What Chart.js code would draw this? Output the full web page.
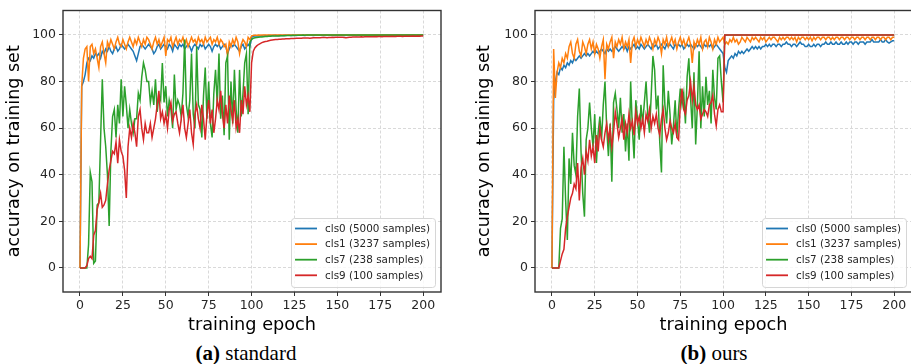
<!DOCTYPE html>
<html><head><meta charset="utf-8">
<script src="https://cdn.jsdelivr.net/npm/chart.js@4.4.1/dist/chart.umd.min.js"></script>
<style>
html,body{margin:0;padding:0;background:#fff;overflow:hidden;width:911px;height:364px;}
#wrapA{position:absolute;left:0;top:0;width:455px;height:340px;}
#wrapB{position:absolute;left:470px;top:0;width:450px;height:340px;}
.cap{position:absolute;top:341px;line-height:24px;font-family:"Liberation Serif","Times New Roman",serif;font-size:21px;color:#000;white-space:nowrap;transform:translateX(-50%);}
</style></head>
<body>
<div id="wrapA"><canvas id="cA" width="455" height="340"></canvas></div>
<div id="wrapB"><canvas id="cB" width="450" height="340"></canvas></div>
<div class="cap" style="left:246px"><b>(a)</b> standard</div>
<div class="cap" style="left:714px"><b>(b)</b> ours</div>
<script>
const categories = ['cls0 (5000 samples)','cls1 (3237 samples)','cls7 (238 samples)','cls9 (100 samples)'];
const colors = ['#1f77b4','#ff7f0e','#2ca02c','#d62728'];
const xTicks = [0,25,50,75,100,125,150,175,200];
const yTicks = [0,20,40,60,80,100];
const epochs = Array.from({length:201},(_,i)=>i);

// (a) standard
const stdCls0 = [
0,78,80,83,88,90,89,91,90,92, 91,92,90,93,92,94,93,95,93,92, 94,95,93,94,96,95,94,95,96,95,
94,93,91,89,92,95,96,95,94,95, 96,95,94,92,93,95,96,94,95,96, 95,94,96,95,93,96,95,94,96,95,
96,94,95,96,95,93,95,96,95,94, 96,95,96,94,95,96,95,93,95,96, 95,96,94,95,96,95,92,94,96,95,
96,95,94,93,95,96,94,95,96,95,
99,99.4,99.5,99.5,99.6,99.6,99.7,99.6,99.7,99.7, 99.8,99.7,99.8,99.8,99.9,99.8,99.8,99.9,99.8,99.9,
99.8,99.9,99.9,99.8,99.9,99.9,99.8,99.9,99.9,99.9, 99.9,99.8,99.9,99.9,99.9,99.9,99.8,99.9,99.9,99.9,
99.9,99.9,99.8,99.9,99.9,99.9,99.9,99.9,99.8,99.9, 99.9,99.9,99.9,99.9,99.8,99.9,99.9,99.9,99.9,99.9,
99.9,99.8,99.9,99.9,99.9,99.9,99.9,99.9,99.8,99.9, 99.9,99.9,99.9,99.9,99.9,99.8,99.9,99.9,99.9,99.9,
99.9,99.9,99.8,99.9,99.9,99.9,99.9,99.9,99.9,99.8, 99.9,99.9,99.9,99.9,99.9,99.9,99.8,99.9,99.9,99.9,
99.9];
const stdCls1 = [
0,78,90,94,95,80,95,96,92,94, 90,86,95,97,92,88,97,95,98,96, 94,97,99,96,95,98,96,94,97,99,
97,95,98,96,99,97,95,98,96,99, 98,96,94,97,99,96,98,95,97,99, 91,98,97,99,95,97,99,96,98,97,
99,96,98,95,97,99,97,98,96,99, 97,98,96,99,97,98,99,96,98,97, 99,96,98,97,95,96,91,97,95,98,
96,99,97,92,96,98,97,95,99,98,
99.6,99.8,99.9,99.9,100,99.9,100,100,100,100, 100,100,100,100,100,100,100,100,100,100,
100,100,100,100,100,100,100,100,100,100, 100,100,100,100,100,100,100,100,100,100,
100,100,100,100,100,100,100,100,100,100, 100,100,100,100,100,100,100,100,100,100,
100,100,100,100,100,100,100,100,100,100, 100,100,100,100,100,100,100,100,100,100,
100,100,100,100,100,100,100,100,100,100, 100,100,100,100,100,100,100,100,100,100,
100];
const stdCls7 = [
0,0,0,0,0,10,41,37,2,3, 27,28,55,81,60,52,40,18,50,65, 68,56,70,62,81,65,78,70,60,68,
62,58,64,64,75,72,82,88,85,80, 80,71,76,70,81,67,74,72,88,71, 78,65,72,68,60,83,68,72,70,65,
75,98,70,65,72,92,66,60,95,70, 68,56,74,86,64,80,62,56,75,85, 70,92,64,74,57,88,91,55,80,62,
85,68,58,85,65,75,88,92,66,97,
98,98.6,98.8,98.9,99,99.1,99.1,99.2,99.3,99.3, 99.4,99.4,99.5,99.5,99.6,99.6,99.6,99.7,99.7,99.7,
99.8,99.8,99.8,99.8,99.9,99.8,99.9,99.9,99.9,99.9, 100,99.9,100,100,100,100,100,100,100,100,
100,100,100,100,100,100,100,100,100,100, 100,100,100,100,100,100,100,100,100,100,
100,100,100,100,100,100,100,100,100,100, 100,100,100,100,100,100,100,100,100,100,
100,100,100,100,100,100,100,100,100,100, 100,100,100,100,100,100,100,100,100,100,
100];
const stdCls9 = [
0,0,0,0,1,4,5,4,14,16, 25,28,32,26,27,29,36,42,46,50, 49,54,45,55,50,48,42,30,52,60,
56,62,58,52,65,68,60,55,62,58, 58,62,56,60,64,70,76,64,67,62, 66,60,68,71,63,66,67,62,58,64,
70,60,56,62,68,58,53,66,70,64, 60,70,64,55,66,72,62,68,58,64, 72,68,76,66,60,70,62,74,68,63,
72,60,64,58,72,66,78,70,74,67,
88,93,94.5,95.3,95.9,96.3,96.7,97,97.2,97.3, 97.5,97.7,97.8,97.9,98,98.1,98.2,98.2,98.3,98.3,
98.4,98.4,98.4,98.5,98.5,98.5,98.6,98.6,98.6,98.6, 98.7,98.7,98.7,98.7,98.6,98.7,98.8,98.8,98.8,98.8,
98.8,98.9,98.9,98.9,98.8,98.9,98.9,99,98.9,99, 99,99,99,99,98.9,98.8,98.9,99,99,99.1,
99.1,99.1,99.1,99.1,99.2,99.1,99.2,99.2,99.2,99.2, 99.2,99.2,99.3,99.2,99.3,99.3,99.2,99.3,99.3,99.3,
99.3,99.3,99.4,99.3,99.3,99.4,99.4,99.4,99.3,99.4, 99.4,99.4,99.4,99.4,99.5,99.4,99.4,99.5,99.4,99.5,
99.5];

// (b) ours
const oursCls0 = [
0,72,80,84,83,86,85,87,86,88, 87,89,88,90,89,90,91,90,91,92, 91,92,91,92,93,92,93,92,93,94,
93,92,94,93,94,93,94,95,94,93, 94,95,94,95,93,95,94,95,96,94, 95,94,96,95,94,95,96,95,94,96,
95,96,94,95,96,95,94,96,95,96, 95,94,96,95,96,95,96,94,95,96, 95,96,95,94,96,95,96,95,94,96,
95,96,95,96,94,95,96,95,94,93,
92,86,84,89,90,91,90,92,91,93, 92,93,92,93,94,93,94,95,94,95,
94,95,94,95,95,96,95,96,95,96, 96,95,96,96,95,96,96,97,96,96,
95,96,96,95,96,97,96,96,95,95, 96,95,95,96,95,96,96,95,96,96,
97,96,96,97,96,96,97,96,96,97, 96,96,97,96,97,97,96,97,97,96,
97,97,97,96,97,97,97,98,97,97, 97,97,98,97,97,98,97,96.5,97,97.5,
97.5];
const oursCls1 = [
0,94,73,84,88,86,90,88,92,90, 95,97,92,90,96,98,93,91,97,95, 92,96,98,94,97,92,96,94,90,95,
98,81,96,94,97,99,90,97,95,98, 96,99,94,97,95,98,88,97,99,95, 98,96,99,97,95,98,96,99,97,94,
98,96,99,97,92,98,96,99,95,97, 99,96,98,94,97,99,96,98,95,97, 99,96,88,97,95,98,96,99,94,97,
98,95,99,97,94,98,96,99,97,98,
99,96,97,96,98,97,99,97,98,96, 97,99,98,97,99,98,97,99,98,99,
98,97,99,98,99,97,98,99,98,99, 99,98,97,99,98,99,98,99,99,98,
99,98,99,97,99,98,99,99,98,99, 98,99,97.5,99,98,99,99,98,99,99,
98,99,99,98,99,98,99,99,98,99, 99,98,99,99,98,99,99,98,99,99,
98,99,99,98,99,99,98,99,99,98, 99,99,98,99,99,98,99,99,98,99,
99];
const oursCls7 = [
0,0,0,0,0,17,21,52,29,12, 47,36,58,44,40,65,77,50,32,22, 55,60,71,60,52,66,45,58,65,55,
70,80,60,48,62,37,71,75,68,60, 73,58,66,50,62,46,80,60,47,72, 64,55,70,62,71,80,66,58,74,91,
85,68,74,54,41,87,70,62,76,66, 53,61,72,56,68,77,70,75,62,82, 90,73,60,84,53,70,93,60,78,65,
82,70,76,62,85,73,68,90,91,80,
71,100,100,100,100,100,100,100,100,100, 100,100,100,100,100,100,100,100,100,100,
100,100,100,100,100,100,100,100,100,100, 100,100,100,100,100,100,100,100,100,100,
100,100,100,100,100,100,100,100,100,100, 100,100,100,100,100,100,100,100,100,100,
100,100,100,100,100,100,100,100,100,100, 100,100,100,100,100,100,100,100,100,100,
100,100,100,100,100,100,100,100,100,100, 100,100,100,100,100,100,100,100,100,100,
100];
const oursCls9 = [
0,0,0,0,0,3,6,8,17,22, 26,30,32,36,34,45,29,43,47,40, 50,46,55,48,52,45,57,50,60,55,
52,58,62,55,60,52,58,67,62,56, 60,64,55,62,58,66,60,63,57,67, 62,65,60,64,58,66,63,68,60,65,
62,66,60,57,64,68,60,55,58,63, 60,58,62,56,55,70,77,68,66,72, 74,80,72,78,70,68,70,64,66,68,
67,65,70,71,74,66,61,68,70,67,
67,100,100,100,100,100,100,100,100,100, 100,100,100,100,100,100,100,100,100,100,
100,100,100,100,100,100,100,100,100,100, 100,100,100,100,100,100,100,100,100,100,
100,100,100,100,100,100,100,100,100,100, 100,100,100,100,100,100,100,100,100,100,
100,100,100,100,100,100,100,100,100,100, 100,100,100,100,100,100,100,100,100,100,
100,100,100,100,100,100,100,100,100,100, 100,100,100,100,100,100,100,100,100,100,
100];

const FONT = '"DejaVu Sans", sans-serif';

const framePlugin = {
  id: 'frameLegend',
  afterDatasetsDraw(chart) {
    const {ctx, chartArea: a} = chart;
    ctx.save();
    ctx.strokeStyle = '#333';
    ctx.lineWidth = 1.4;
    ctx.strokeRect(a.left, a.top, a.right - a.left, a.bottom - a.top);
    ctx.restore();
  },
  afterDraw(chart) {
    const {ctx, chartArea: a} = chart;
    const fs = 10.4;
    ctx.save();
    ctx.font = fs + 'px ' + FONT;
    const tw = Math.max(...categories.map(t => ctx.measureText(t).width));
    const pad = 4, hl = 22, gap = 8, rowH = 15.6;
    const w = pad + hl + gap + tw + pad + 1;
    const h = 69;
    const right = Math.min(a.right, chart.width) - 6;
    const x0 = right - w, y0 = a.bottom - 5 - h;
    ctx.beginPath();
    if (ctx.roundRect) ctx.roundRect(x0 + 0.5, y0 + 0.5, w, h, 3); else ctx.rect(x0 + 0.5, y0 + 0.5, w, h);
    ctx.fillStyle = 'rgba(255,255,255,0.8)';
    ctx.fill();
    ctx.strokeStyle = '#d6d6d6';
    ctx.lineWidth = 1;
    ctx.stroke();
    ctx.textBaseline = 'middle';
    ctx.textAlign = 'left';
    categories.forEach((t, i) => {
      const cy = y0 + 10.5 + i * rowH;
      ctx.strokeStyle = colors[i];
      ctx.lineWidth = 1.8;
      ctx.beginPath();
      ctx.moveTo(x0 + pad, cy);
      ctx.lineTo(x0 + pad + hl, cy);
      ctx.stroke();
      ctx.fillStyle = '#262626';
      ctx.fillText(t, x0 + pad + hl + gap, cy + 0.5);
    });
    ctx.restore();
  }
};

function makeChart(id, series, yWidth, padRight) {
  const datasets = series.map((vals, i) => ({
    label: categories[i],
    data: vals.map((v, k) => ({x: epochs[k], y: v})),
    borderColor: colors[i],
    backgroundColor: colors[i],
    borderWidth: 1.5,
    pointRadius: 0,
    tension: 0,
    fill: false,
    order: 4 - i
  }));
  const tickFont = {family: FONT, size: 12.5};
  return new Chart(document.getElementById(id), {
    type: 'line',
    data: {datasets},
    options: {
      responsive: false,
      animation: false,
      layout: {padding: {left: 0, right: padRight, top: 8, bottom: 0}},
      plugins: {legend: {display: false}, tooltip: {enabled: false}},
      scales: {
        x: {
          type: 'linear',
          min: -9.9, max: 210.4,
          afterBuildTicks: s => { s.ticks = xTicks.map(v => ({value: v})); },
          afterFit: s => { s.height = 48; },
          ticks: {font: tickFont, color: '#262626', padding: 2, maxRotation: 0, autoSkip: false},
          grid: {color: '#d9d9d9', lineWidth: 1, drawTicks: true, tickLength: 4, tickColor: '#333', tickWidth: 1},
          border: {display: false, dash: [3, 2]},
          title: {display: true, text: 'training epoch', font: {family: FONT, size: 17.7}, color: '#000', padding: {top: 2, bottom: 4}}
        },
        y: {
          type: 'linear',
          min: -10.35, max: 110.5,
          afterBuildTicks: s => { s.ticks = yTicks.map(v => ({value: v})); },
          afterFit: s => { s.width = yWidth; },
          ticks: {font: tickFont, color: '#262626', padding: 3},
          grid: {color: '#d9d9d9', lineWidth: 1, drawTicks: true, tickLength: 4, tickColor: '#333', tickWidth: 1},
          border: {display: false, dash: [3, 2]},
          title: {display: true, text: 'accuracy on training set', font: {family: FONT, size: 17.5}, color: '#000', padding: {top: 4, bottom: 2}}
        }
      }
    },
    plugins: [framePlugin]
  });
}

makeChart('cA', [stdCls0, stdCls1, stdCls7, stdCls9], 63, 14);
makeChart('cB', [oursCls0, oursCls1, oursCls7, oursCls9], 65, 8);
</script>
</body></html>
